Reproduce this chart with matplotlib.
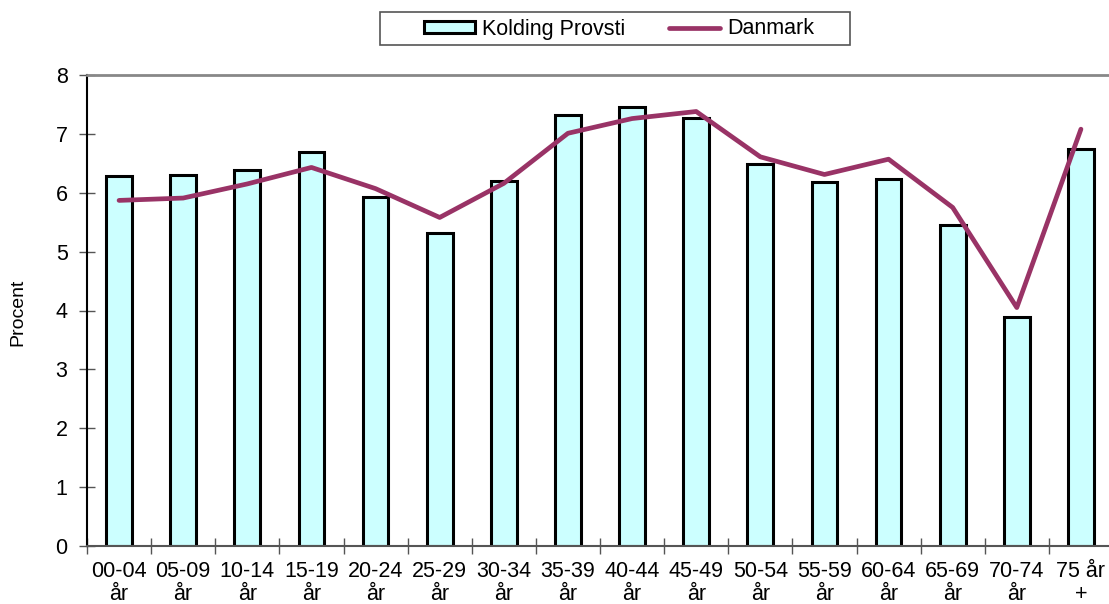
import matplotlib
matplotlib.use("Agg")
import matplotlib.pyplot as plt
from matplotlib.patches import Rectangle
import numpy as np

categories = ["00-04\når", "05-09\når", "10-14\når", "15-19\når", "20-24\når", "25-29\når",
              "30-34\når", "35-39\når", "40-44\når", "45-49\når", "50-54\når", "55-59\når",
              "60-64\når", "65-69\når", "70-74\når", "75 år\n+"]
kolding = [6.28, 6.30, 6.38, 6.69, 5.92, 5.32, 6.20, 7.32, 7.45, 7.27, 6.49, 6.18, 6.23, 5.46, 3.89, 6.75]
danmark = [5.87, 5.91, 6.15, 6.43, 6.07, 5.58, 6.16, 7.01, 7.26, 7.38, 6.61, 6.31, 6.57, 5.75, 4.05, 7.08]
yticks = [0, 1, 2, 3, 4, 5, 6, 7, 8]

plt.rcParams['font.family'] = ['Liberation Sans', 'DejaVu Sans']

W, H = 1109, 604
fig = plt.figure(figsize=(W / 100, H / 100), dpi=100)
left, right, top, bottom = 87, 1113, 75, 546
ax = fig.add_axes([left / W, 1 - bottom / H, (right - left) / W, (bottom - top) / H])

x = np.arange(len(categories))
bars = ax.bar(x, kolding, width=0.4, color="#CCFFFF", edgecolor="black", linewidth=2.2,
              label="Kolding Provsti", zorder=2)
line, = ax.plot(x, danmark, color="#993366", linewidth=3.4, label="Danmark", zorder=3,
                solid_capstyle="round", solid_joinstyle="round")

ax.set_xlim(-0.5, len(categories) - 0.5)
ax.set_ylim(0, 8)
ax.set_yticks(yticks)
ax.set_yticklabels([str(v) for v in yticks], fontsize=15.5)
ax.set_xticks(np.arange(len(categories) + 1) - 0.5, minor=False)
ax.set_xticklabels([])
ax.set_xticks(x, minor=True)
ax.set_xticklabels(categories, minor=True, fontsize=15.5, linespacing=1.1)
ax.tick_params(axis="x", which="major", direction="inout", length=12, width=1, color="#555555")
ax.tick_params(axis="x", which="minor", length=0, pad=11)
ax.tick_params(axis="y", direction="inout", length=12, width=1, color="#555555", pad=8)

ax.spines["right"].set_visible(False)
ax.spines["top"].set_color("#888888")
ax.spines["top"].set_linewidth(2)
ax.spines["left"].set_color("black")
ax.spines["left"].set_linewidth(1.5)
ax.spines["bottom"].set_color("#555555")
ax.spines["bottom"].set_linewidth(1.5)

fig.text(18 / W, 1 - 312 / H, "Procent", rotation=90, fontsize=14, ha="center", va="center")

# legend box
fig.patches.append(Rectangle((380 / W, 1 - 45 / H), 470 / W, 33 / H, transform=fig.transFigure,
                             facecolor="white", edgecolor="#555555", linewidth=1.2, zorder=0))
leg = fig.legend(handles=[bars, line], labels=["Kolding Provsti", "Danmark"], ncol=2,
                 loc="center", bbox_to_anchor=(619 / W, 1 - 29 / H), fontsize=15.5,
                 frameon=False, handlelength=2.4, handleheight=0.5, handletextpad=0.33,
                 columnspacing=2.0, borderpad=0.0, borderaxespad=0)

fig.savefig("out.png", dpi=100)
